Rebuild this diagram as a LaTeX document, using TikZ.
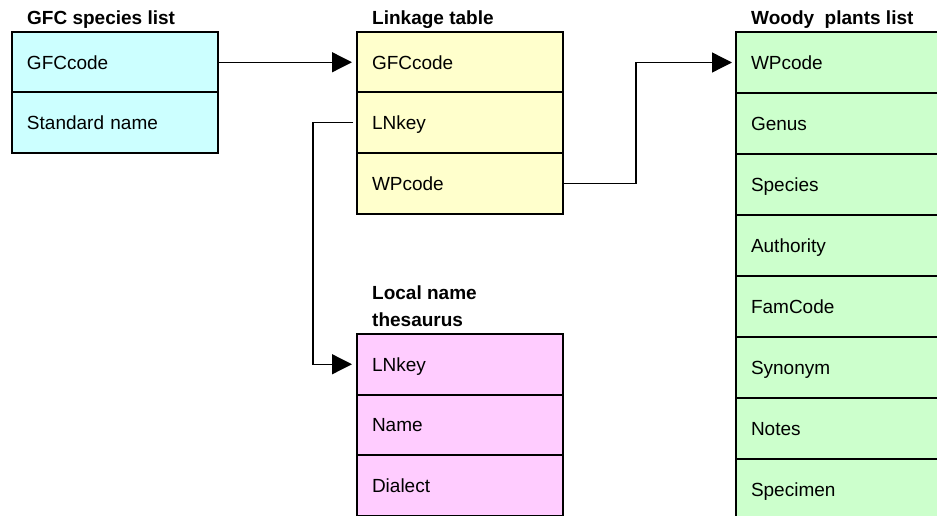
\documentclass[tikz,border=0pt]{standalone}
\usepackage{fontspec}
\setmainfont{Liberation Sans}
\usetikzlibrary{arrows.meta}
\definecolor{gfcfill}{HTML}{CCFFFF}
\definecolor{linkfill}{HTML}{FFFFCC}
\definecolor{woodfill}{HTML}{CCFFCC}
\definecolor{locfill}{HTML}{FFCCFF}
\tikzset{
  rowbox/.style={draw=black, line width=2pt, rectangle, outer sep=0pt,
    inner xsep=15pt, inner ysep=0pt, minimum height=60.5pt,
    text height=13.6pt, text depth=0pt,
    text width=176pt, align=left, font=\fontsize{19}{23}\selectfont},
  woodrow/.style={rowbox, fill=woodfill, text width=180pt, minimum height=61pt},
  title/.style={anchor=base west, inner sep=0pt, align=left,
    font=\fontsize{19}{27}\selectfont\bfseries},
  conn/.style={draw=black, line width=1.3pt},
  arr/.style={conn, -{Triangle[length=20pt, width=20pt]}}
}
\begin{document}
\begin{tikzpicture}[x=1pt, y=-1pt]
\useasboundingbox (0,0) rectangle (937,516);

% GFC species list
\node[title] (tg) at (27,25) {GFC species list};
\node[rowbox, fill=gfcfill, anchor=north west] (g1) at (12,32) {GFCcode};
\node[rowbox, fill=gfcfill, anchor=north] (g2) at (g1.south) {Standard name};

% Linkage table
\node[title] (tl) at (372,25) {Linkage table};
\node[rowbox, fill=linkfill, anchor=north west] (l1) at (357,32) {GFCcode};
\node[rowbox, fill=linkfill, anchor=north] (l2) at (l1.south) {LNkey};
\node[rowbox, fill=linkfill, anchor=north] (l3) at (l2.south) {WPcode};

% Local name thesaurus
\node[title] (tn) at (372,326) {Local name\\thesaurus};
\node[rowbox, fill=locfill, anchor=north west] (n1) at (357,334) {LNkey};
\node[rowbox, fill=locfill, anchor=north] (n2) at (n1.south) {Name};
\node[rowbox, fill=locfill, anchor=north] (n3) at (n2.south) {Dialect};

% Woody plants list
\node[title] (tw) at (751,25) {Woody\ \ plants list};
\begin{scope}
\clip (0,0) rectangle (937,516);
\node[woodrow, anchor=north west] (w1) at (736,32) {WPcode};
\node[woodrow, anchor=north] (w2) at (w1.south) {Genus};
\node[woodrow, anchor=north] (w3) at (w2.south) {Species};
\node[woodrow, anchor=north] (w4) at (w3.south) {Authority};
\node[woodrow, anchor=north] (w5) at (w4.south) {FamCode};
\node[woodrow, anchor=north] (w6) at (w5.south) {Synonym};
\node[woodrow, anchor=north] (w7) at (w6.south) {Notes};
\node[woodrow, anchor=north] (w8) at (w7.south) {Specimen};
\end{scope}

% connectors
\draw[arr] (g1.east) -- ([xshift=-5pt]l1.west);
\draw[arr] ([xshift=-4pt]l2.west) -- ++(-40,0) |- ([xshift=-5pt]n1.west);
\draw[arr] (l3.east) -- ++(73,0) |- ([xshift=-4pt]w1.west);
\end{tikzpicture}
\end{document}
